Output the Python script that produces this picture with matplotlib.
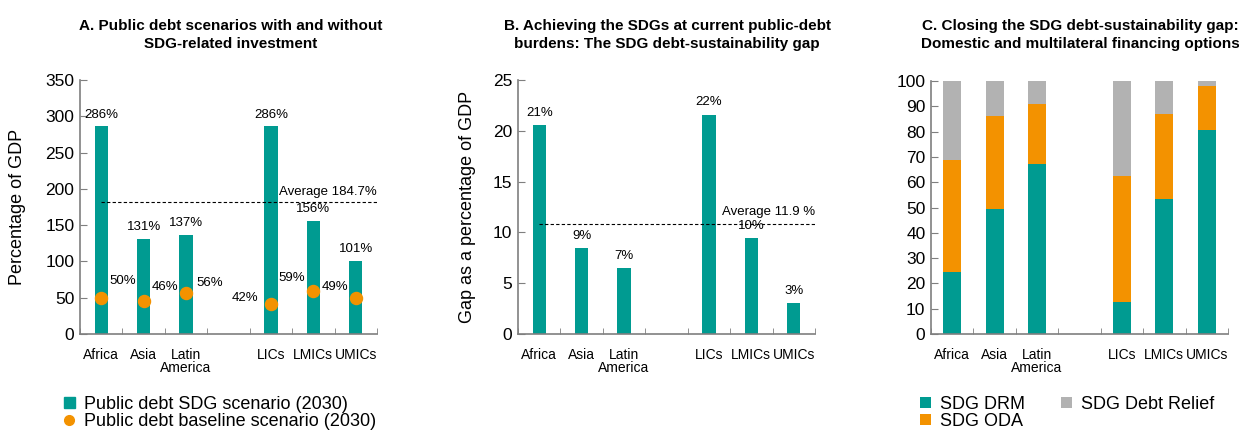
import matplotlib
matplotlib.use("Agg")
import matplotlib.pyplot as plt
from matplotlib import font_manager
import numpy as np

names = {f.name for f in font_manager.fontManager.ttflist}
NARROW = "Liberation Sans Narrow" if "Liberation Sans Narrow" in names else "Liberation Sans"
plt.rcParams["font.family"] = ["Liberation Sans", "DejaVu Sans"]

categories = ["Africa", "Asia", "Latin\nAmerica", "", "LICs", "LMICs", "UMICs"]

# panel A
sdg_debt = [286, 131, 137, None, 286, 156, 101]
base_debt = [50, 46, 56, None, 42, 59, 49]
avg_a = 182.4
avg_a_label = "Average 184.7%"

# panel B
gap = [20.6, 8.45, 6.45, None, 21.6, 9.4, 3.05]
gap_labels = ["21%", "9%", "7%", "", "22%", "10%", "3%"]
avg_b = 10.8
avg_b_label = "Average 11.9 %"

# panel C
drm = [24.6, 49.5, 67.2, 0, 12.8, 53.5, 80.8]
oda = [44.0, 36.8, 23.8, 0, 49.5, 33.6, 17.4]
relief = [31.4, 13.7, 9.0, 0, 37.7, 12.9, 1.8]

TEAL = "#009B91"
ORANGE = "#F39200"
GRAY = "#B2B2B2"
SPINE = "#7F7F7F"

fig = plt.figure(figsize=(12.39, 4.30), dpi=100)
W, H = 1239, 430


def make_ax(left, right, top=80, bottom=334):
    return fig.add_axes([left / W, 1 - bottom / H, (right - left) / W, (bottom - top) / H])


def style(ax, ymax, ystep):
    x = np.arange(len(categories))
    ax.set_xlim(-0.5, len(categories) - 0.5)
    ax.set_ylim(0, ymax)
    ax.set_yticks(np.arange(0, ymax + 0.1, ystep))
    ax.set_xticks(x)
    ax.set_xticklabels(categories, fontsize=10, family=NARROW, linespacing=0.95)
    ax.set_xticks(np.arange(-0.5, len(categories)), minor=True)
    ax.tick_params(axis="x", which="major", length=0, pad=10)
    ax.tick_params(axis="x", which="minor", direction="in", length=4, color=SPINE)
    ax.tick_params(axis="y", direction="in", length=5, color=SPINE, labelsize=12.5, pad=4)
    for s in ["top", "right"]:
        ax.spines[s].set_visible(False)
    for s in ["left", "bottom"]:
        ax.spines[s].set_color(SPINE)
        ax.spines[s].set_linewidth(1.2)


def vals(lst):
    return [np.nan if v is None else v for v in lst]


x = np.arange(len(categories))

# ---- A
axA = make_ax(80, 377)
style(axA, 350, 50)
axA.bar(x, vals(sdg_debt), width=0.31, color=TEAL, zorder=2)
axA.scatter(x, vals(base_debt), s=75, color=ORANGE, zorder=3)
axA.plot([0, 6.5], [avg_a, avg_a], ls=(0, (3, 2)), color="black", lw=0.8, zorder=4)
axA.text(6.5, avg_a + 5, avg_a_label, ha="right", va="bottom", fontsize=9.5, family=NARROW)
for i, v in enumerate(sdg_debt):
    if v is not None:
        axA.text(i, v + 8, f"{v}%", ha="center", va="bottom", fontsize=9.5, family=NARROW)
dot_dx = [0.5, 0.5, 0.55, 0, -0.6, -0.5, -0.5]
dot_y = [73, 65, 70, 0, 50, 77, 65]
for i, v in enumerate(base_debt):
    if v is not None:
        axA.text(i + dot_dx[i], dot_y[i], f"{v}%", ha="center", va="center",
                 fontsize=9.5, family=NARROW)
axA.set_ylabel("Percentage of GDP", fontsize=13, labelpad=14)

# ---- B
axB = make_ax(518, 815)
style(axB, 25, 5)
axB.bar(x, vals(gap), width=0.31, color=TEAL, zorder=2)
axB.plot([0, 6.5], [avg_b, avg_b], ls=(0, (3, 2)), color="black", lw=0.8, zorder=4)
axB.text(6.5, avg_b + 0.6, avg_b_label, ha="right", va="bottom", fontsize=9.5, family=NARROW)
for i, v in enumerate(gap):
    if v is not None:
        axB.text(i, v + 0.6, gap_labels[i], ha="center", va="bottom", fontsize=9.5, family=NARROW)
axB.set_ylabel("Gap as a percentage of GDP", fontsize=13, labelpad=12)

# ---- C
axC = make_ax(931, 1228, top=81)
style(axC, 100, 10)
b1 = axC.bar(x, drm, width=0.43, color=TEAL, label="SDG DRM", zorder=2)
b2 = axC.bar(x, oda, width=0.43, bottom=drm, color=ORANGE, label="SDG ODA", zorder=2)
b3 = axC.bar(x, relief, width=0.43, bottom=np.add(drm, oda), color=GRAY,
             label="SDG Debt Relief", zorder=2)

# titles
fig.text(231 / W, 1 - 35 / H, "A. Public debt scenarios with and without\nSDG-related investment",
         ha="center", va="center", fontsize=11, fontweight="bold", family=NARROW, linespacing=1.3)
fig.text(667 / W, 1 - 35 / H, "B. Achieving the SDGs at current public-debt\nburdens: The SDG debt-sustainability gap",
         ha="center", va="center", fontsize=11, fontweight="bold", family=NARROW, linespacing=1.3)
fig.text(1080 / W, 1 - 35 / H, "C. Closing the SDG debt-sustainability gap:\nDomestic and multilateral financing options",
         ha="center", va="center", fontsize=11, fontweight="bold", family=NARROW, linespacing=1.3)

# legends
hA1 = plt.Rectangle((0, 0), 1, 1, color=TEAL)
hA2 = plt.Line2D([], [], marker="o", ls="", color=ORANGE, markersize=7)
fig.legend([hA1, hA2], ["Public debt SDG scenario (2030)", "Public debt baseline scenario (2030)"],
           loc="upper left", bbox_to_anchor=(64 / W, 1 - 396 / H), frameon=False, fontsize=13,
           handlelength=0.6, handleheight=0.6, handletextpad=0.5, labelspacing=0.0,
           borderaxespad=0, borderpad=0)
fig.legend([b1, b2, b3], ["SDG DRM", "SDG ODA", "SDG Debt Relief"], ncol=2,
           loc="upper left", bbox_to_anchor=(920 / W, 1 - 396 / H), frameon=False, fontsize=13,
           handlelength=0.6, handleheight=0.6, handletextpad=0.5, labelspacing=0.0,
           columnspacing=2.0, borderaxespad=0, borderpad=0)

fig.savefig("out.png", dpi=100)
